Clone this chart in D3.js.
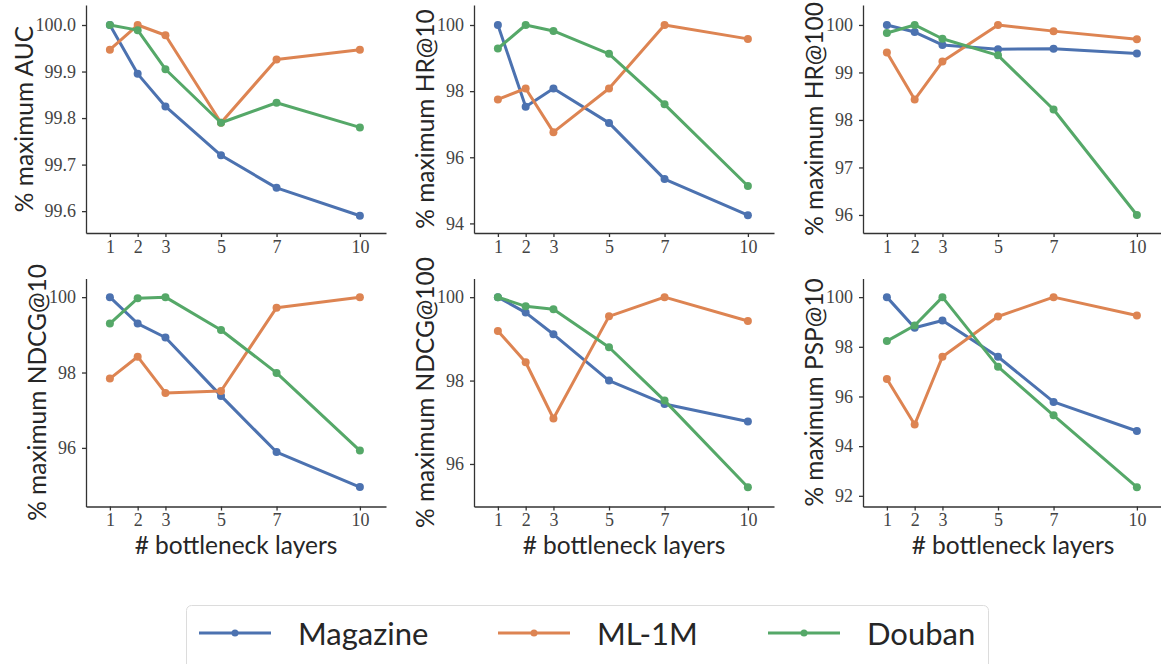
<!DOCTYPE html>
<html>
<head>
	<meta charset="UTF-8">
	<title>Bottleneck layers</title>
	<style>
		body { margin: 0; background: #fff; }
		.tick text { font-family: "Liberation Serif", serif; font-size: 18px; fill: #444; }
		.domain, .tick line { stroke: #333; stroke-width: 1.3; }
		.lab { font-family: Lato, sans-serif; fill: #262626; }
	</style>
</head>
<body>
	<div class="chart"></div>

	<script src="https://d3js.org/d3.v7.min.js"></script>
	<script type="text/javascript">

		var w = 1161, h = 664;
		var pw = 300, ph = 228;

		// x values and series names
		var layers = [1, 2, 3, 5, 7, 10];
		var datasets = ["Magazine", "ML-1M", "Douban"];
		var colors = ["#4c72b0", "#dd8452", "#55a868"];

		// one array per metric: [Magazine, ML-1M, Douban]
		var auc = [
			[100.0, 99.895, 99.825, 99.72, 99.65, 99.59],
			[99.947, 100.0, 99.978, 99.79, 99.926, 99.947],
			[100.0, 99.989, 99.905, 99.79, 99.833, 99.78]
		];
		var hr10 = [
			[100.0, 97.53, 98.08, 97.04, 95.34, 94.25],
			[97.75, 98.08, 96.76, 98.08, 100.0, 99.58],
			[99.29, 100.0, 99.82, 99.13, 97.6, 95.13]
		];
		var hr100 = [
			[100.0, 99.85, 99.58, 99.49, 99.5, 99.4],
			[99.42, 98.43, 99.23, 100.0, 99.87, 99.7],
			[99.83, 100.0, 99.71, 99.36, 98.22, 96.0]
		];
		var ndcg10 = [
			[100.0, 99.3, 98.93, 97.38, 95.89, 94.96],
			[97.84, 98.42, 97.46, 97.51, 99.72, 100.0],
			[99.3, 99.97, 100.0, 99.13, 97.99, 95.93]
		];
		var ndcg100 = [
			[100.0, 99.63, 99.11, 98.0, 97.44, 97.02],
			[99.19, 98.44, 97.09, 99.54, 100.0, 99.43],
			[100.0, 99.78, 99.71, 98.8, 97.52, 95.44]
		];
		var psp10 = [
			[100.0, 98.77, 99.06, 97.6, 95.78, 94.61],
			[96.7, 94.87, 97.6, 99.22, 100.0, 99.26],
			[98.23, 98.86, 100.0, 97.2, 95.24, 92.35]
		];

		// tick labels per panel
		var aucTicks = [99.6, 99.7, 99.8, 99.9, 100.0];
		var hr10Ticks = [94, 96, 98, 100];
		var hr100Ticks = [96, 97, 98, 99, 100];
		var ndcg10Ticks = [96, 98, 100];
		var ndcg100Ticks = [96, 98, 100];
		var psp10Ticks = [92, 94, 96, 98, 100];

		var panels = [
			{ label: "% maximum AUC", values: auc, ticks: aucTicks, fmt: ".1f", dom: [99.553, 100.043], x: 86, y: 5 },
			{ label: "% maximum HR@10", values: hr10, ticks: hr10Ticks, fmt: "d", dom: [93.71, 100.605], x: 474, y: 5 },
			{ label: "% maximum HR@100", values: hr100, ticks: hr100Ticks, fmt: "d", dom: [95.62, 100.42], x: 863, y: 5 },
			{ label: "% maximum NDCG@10", values: ndcg10, ticks: ndcg10Ticks, fmt: "d", dom: [94.445, 100.495], x: 86, y: 278.5 },
			{ label: "% maximum NDCG@100", values: ndcg100, ticks: ndcg100Ticks, fmt: "d", dom: [94.98, 100.448], x: 474, y: 278.5 },
			{ label: "% maximum PSP@10", values: psp10, ticks: psp10Ticks, fmt: "d", dom: [91.57, 100.75], x: 863, y: 278.5 }
		];

		var SVG = d3.select("div.chart").append("svg")
					.attr("width", w)
					.attr("height", h);

		var xScale = d3.scaleLinear().domain([0.14, 10.94]).range([0, pw]);

		function renderPanel(p, i){
			var g = SVG.append("g")
				.attr("transform", "translate(" + p.x + "," + p.y + ")");

			var yScale = d3.scaleLinear().domain(p.dom).range([ph, 0]);

			g.append("g")
				.attr("transform", "translate(0," + ph + ")")
				.call(d3.axisBottom(xScale).tickValues(layers).tickSize(4).tickSizeOuter(0).tickPadding(3));

			var yAx = g.append("g")
				.call(d3.axisLeft(yScale).tickValues(p.ticks).tickFormat(d3.format(p.fmt)).tickSize(4).tickSizeOuter(0).tickPadding(6));

			var tw = d3.max(yAx.selectAll(".tick text").nodes(), function(n){ return n.getComputedTextLength(); });

			g.append("text")
				.attr("class", "lab")
				.attr("transform", "translate(" + (-(10 + tw + 3)) + "," + (ph / 2) + ") rotate(-90)")
				.attr("text-anchor", "middle")
				.style("font-size", "24.5px")
				.text(p.label);

			if (i >= 3) {
				g.append("text")
					.attr("class", "lab")
					.attr("x", pw / 2)
					.attr("y", ph + 47)
					.attr("text-anchor", "middle")
					.style("font-size", "24.5px")
					.text("# bottleneck layers");
			}

			var line = d3.line()
				.x(function(d, j){ return xScale(layers[j]); })
				.y(function(d){ return yScale(d); });

			p.values.forEach(function(vals, k){
				g.append("path")
					.datum(vals)
					.attr("fill", "none")
					.attr("stroke", colors[k])
					.attr("stroke-width", 3)
					.attr("stroke-linejoin", "round")
					.attr("d", line);

				g.selectAll("circle.s" + k)
					.data(vals)
					.enter().append("circle")
					.attr("class", "s" + k)
					.attr("cx", function(d, j){ return xScale(layers[j]); })
					.attr("cy", function(d){ return yScale(d); })
					.attr("r", 4)
					.attr("fill", colors[k]);
			});
		}

		panels.forEach(renderPanel);

		// legend
		var leg = SVG.append("g").attr("transform", "translate(186,605)");
		leg.append("rect")
			.attr("x", 0.5).attr("y", 0.5)
			.attr("width", 802).attr("height", 80)
			.attr("rx", 5)
			.attr("fill", "#fff")
			.attr("stroke", "#dcdcdc");

		var legX = [13, 312, 582];
		datasets.forEach(function(name, k){
			var e = leg.append("g").attr("transform", "translate(" + legX[k] + ",28)");
			e.append("line")
				.attr("x1", 0).attr("x2", 72)
				.attr("stroke", colors[k]).attr("stroke-width", 3);
			e.append("circle").attr("cx", 36).attr("r", 3.5).attr("fill", colors[k]);
			e.append("text")
				.attr("class", "lab")
				.attr("x", 99).attr("y", 12)
				.style("font-size", "31px")
				.text(name);
		});
	</script>
</body>
</html>
